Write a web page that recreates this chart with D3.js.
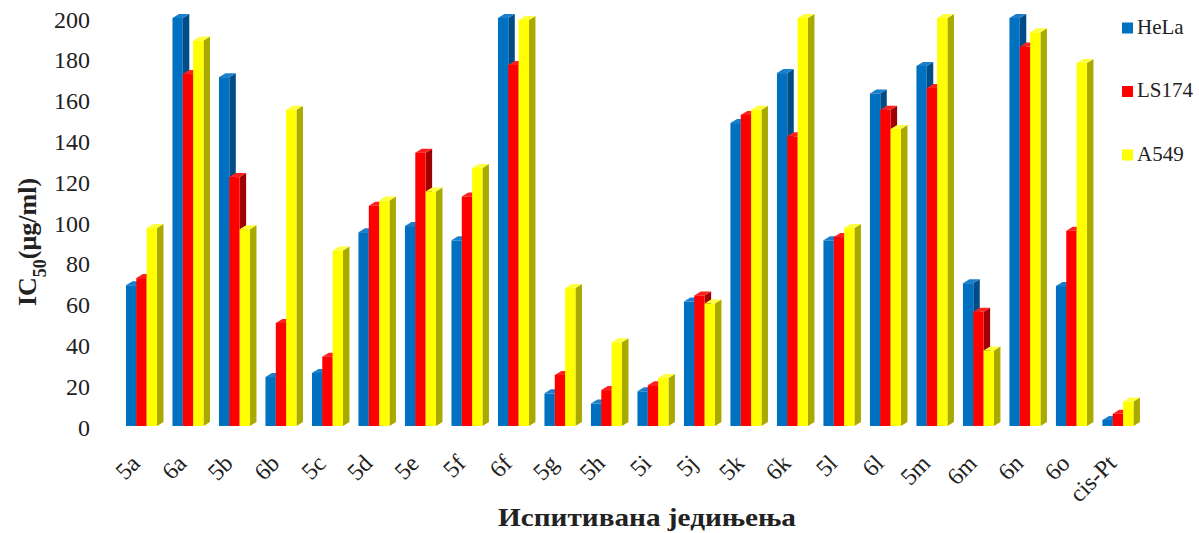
<!DOCTYPE html>
<html>
<head>
<meta charset="utf-8">
<script src="https://cdn.jsdelivr.net/npm/d3@7/dist/d3.min.js"></script>
<style>
  body { margin: 0; background: #fff; }
  svg { display: block; }
  text { font-family: "Liberation Serif", "Times New Roman", serif; fill: #222; }
</style>
</head>
<body>
<svg id="chart" width="1199" height="533"></svg>
<script>
const categories = ['5a','6a','5b','6b','5c','5d','5e','5f','6f','5g','5h','5i','5j','5k','6k','5l','6l','5m','6m','6n','6o','cis-Pt'];
const seriesNames = ['HeLa','LS174','A549'];
const HeLa  = [69, 200, 171, 24, 26, 95, 98, 91, 200, 16, 11, 17, 61, 148.5, 173, 91, 163, 176.5, 70, 200, 68.6, 3];
const LS174 = [72.5, 172.5, 122, 50.5, 34, 108, 134, 112.5, 177, 25, 17.6, 20, 64, 152.5, 142, 92.6, 155, 165.7, 56, 186, 95.7, 6];
const A549  = [97, 189, 96.5, 155, 86, 110.5, 115, 126.5, 199, 67.6, 41, 23.5, 60, 155, 200, 97, 145.6, 200, 37, 193, 178, 12];
const yTicks = [0, 20, 40, 60, 80, 100, 120, 140, 160, 180, 200];

const seriesValues = [HeLa, LS174, A549];
const colors = [
  { front: '#0070C0', side: '#004C86', top: '#1A7FCC' },
  { front: '#FF0000', side: '#A00000', top: '#FF2020' },
  { front: '#FFFF00', side: '#A9A900', top: '#FFFF40' }
];

const svg = d3.select('#chart');
const x = d3.scaleBand().domain(categories).range([109.7, 1149.7]).paddingInner(1/3).paddingOuter(0.35);
const xs = d3.scaleBand().domain(seriesNames).range([0, x.bandwidth()]);
const y = d3.scaleLinear().domain([0, 200]).range([426, 18]);
const dx = 6.5, dy = 4;

const g = svg.append('g');
categories.forEach((c, i) => {
  seriesNames.forEach((s, j) => {
    const v = seriesValues[j][i];
    const x0 = x(c) + xs(s), x1 = x0 + xs.bandwidth();
    const yt = y(v), yb = y(0);
    const col = colors[j];
    g.append('path')
      .attr('d', `M${x1},${yt}L${x1+dx},${yt-dy}L${x1+dx},${yb-dy}L${x1},${yb}Z`)
      .attr('fill', col.side);
    g.append('path')
      .attr('d', `M${x0},${yt}L${x1},${yt}L${x1+dx},${yt-dy}L${x0+dx},${yt-dy}Z`)
      .attr('fill', col.top);
    g.append('rect')
      .attr('x', x0).attr('y', yt)
      .attr('width', xs.bandwidth()).attr('height', yb - yt)
      .attr('fill', col.front);
  });
});

// Y tick labels
svg.append('g').selectAll('text').data(yTicks).join('text')
  .attr('x', 90).attr('y', d => y(d) + 4)
  .attr('text-anchor', 'end').attr('dominant-baseline', 'middle')
  .style('font-size', '24px')
  .text(d => d);

// X tick labels
svg.append('g').selectAll('text').data(categories).join('text')
  .attr('transform', d => `translate(${x(d) + x.bandwidth()/2 - 4},${461}) rotate(-45)`)
  .attr('text-anchor', 'end').attr('dominant-baseline', 'middle')
  .style('font-size', '24px')
  .text(d => d);

// Y axis title
const yt = svg.append('text')
  .attr('transform', 'translate(36,242) rotate(-90)')
  .attr('text-anchor', 'middle')
  .style('font-size', '26px').style('font-weight', 'bold');
yt.append('tspan').text('IC');
yt.append('tspan').attr('baseline-shift', 'sub').style('font-size', '18px').text('50');
yt.append('tspan').text('(μg/ml)');

// X axis title
svg.append('text')
  .attr('x', 647).attr('y', 526)
  .attr('text-anchor', 'middle')
  .attr('textLength', 298).attr('lengthAdjust', 'spacingAndGlyphs')
  .style('font-size', '26px').style('font-weight', 'bold')
  .text('Испитивана једињења');

// Legend
const leg = svg.append('g');
seriesNames.forEach((s, j) => {
  const cy = 28 + j * 63.5;
  leg.append('rect').attr('x', 1122).attr('y', cy - 5.5).attr('width', 11).attr('height', 11).attr('fill', colors[j].front);
  leg.append('text').attr('x', 1137).attr('y', cy + 1).attr('dominant-baseline', 'middle')
    .style('font-size', '21px').text(s);
});
</script>
</body>
</html>
